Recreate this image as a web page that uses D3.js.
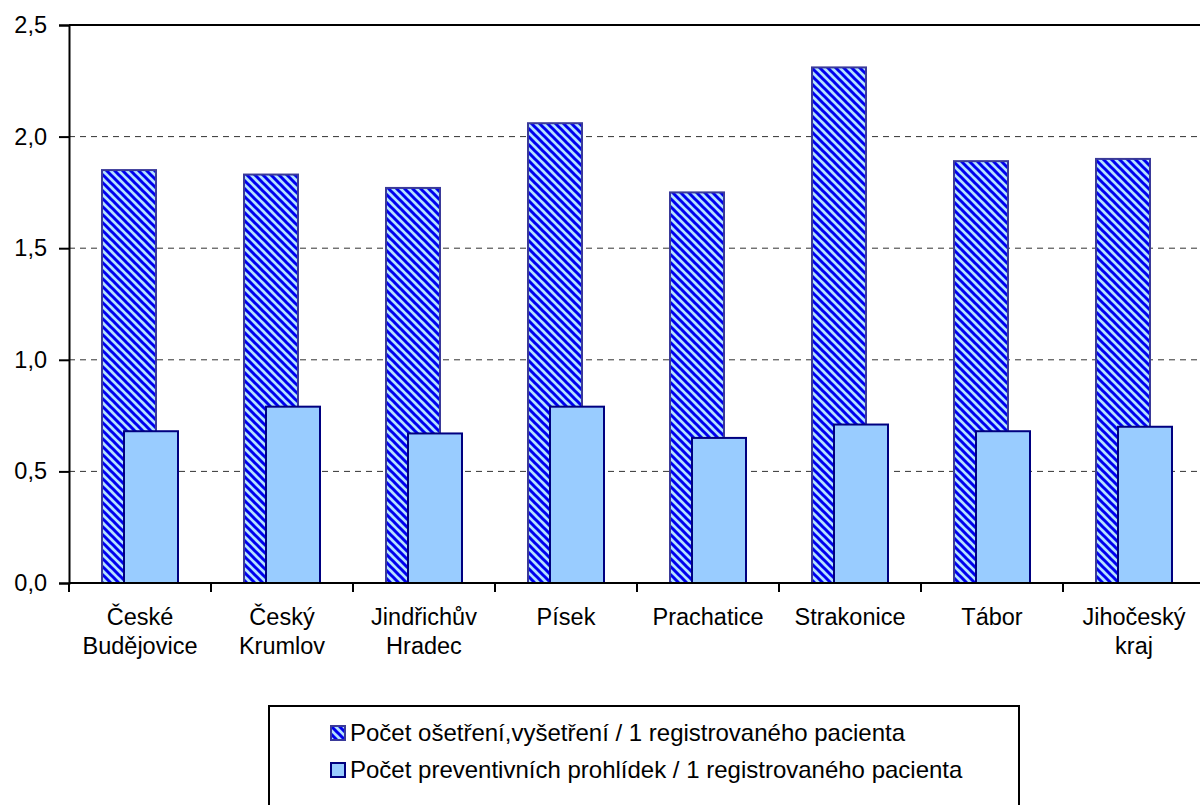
<!DOCTYPE html>
<html>
<head>
<meta charset="utf-8">
<script src="https://cdn.jsdelivr.net/npm/d3@7"></script>
<style>
  body { margin: 0; background: #fff; }
  svg { display: block; font-family: "Liberation Sans", Arial, sans-serif; }
</style>
</head>
<body>
<div id="chart"></div>
<script>
// data
let categories = ['České Budějovice', 'Český Krumlov', 'Jindřichův Hradec', 'Písek',
  'Prachatice', 'Strakonice', 'Tábor', 'Jihočeský kraj']
let labelLines = [['České', 'Budějovice'], ['Český', 'Krumlov'], ['Jindřichův', 'Hradec'], ['Písek'],
  ['Prachatice'], ['Strakonice'], ['Tábor'], ['Jihočeský', 'kraj']]
let osetreni = [1.85, 1.83, 1.77, 2.06, 1.75, 2.31, 1.89, 1.90]
let prohlidky = [0.68, 0.79, 0.67, 0.79, 0.65, 0.71, 0.68, 0.70]
let yTicks = [0, 0.5, 1.0, 1.5, 2.0, 2.5]
let seriesNames = ['Počet ošetření,vyšetření / 1 registrovaného pacienta',
  'Počet preventivních prohlídek / 1 registrovaného pacienta']

let W = 1200, H = 805
let plotLeft = 69, plotTop = 25, plotBottom = 583
let plotRight = plotLeft + 8 * 142
let fs = 23.5

let svg = d3.select('#chart').append('svg')
  .attr('width', W).attr('height', H)

// hatch pattern
let defs = svg.append('defs')
let pat = defs.append('pattern')
  .attr('id', 'hatch')
  .attr('patternUnits', 'userSpaceOnUse')
  .attr('width', 8).attr('height', 8)
pat.append('rect').attr('width', 8).attr('height', 8).attr('fill', '#b4e2ff')
pat.append('path')
  .attr('d', 'M-2,-2 L10,10 M-2,6 L2,10 M6,-2 L10,2')
  .attr('stroke', '#0000ee')
  .attr('stroke-width', 3)

let x = d3.scaleBand().domain(categories).range([plotLeft, plotRight])
let y = d3.scaleLinear().domain([0, 2.5]).range([plotBottom, plotTop])

// gridlines
svg.append('g')
  .selectAll('line')
  .data(yTicks.filter(d => d > 0 && d < 2.5))
  .enter().append('line')
  .attr('x1', plotLeft).attr('x2', plotRight)
  .attr('y1', d => y(d)).attr('y2', d => y(d))
  .attr('stroke', '#333')
  .attr('stroke-width', 1)
  .attr('stroke-dasharray', '6,5')

// top border
svg.append('line')
  .attr('x1', plotLeft).attr('x2', plotRight)
  .attr('y1', plotTop).attr('y2', plotTop)
  .attr('stroke', '#000').attr('stroke-width', 2)

let bw = 54

// hatched bars
svg.append('g')
  .selectAll('rect')
  .data(osetreni)
  .enter().append('rect')
  .attr('x', (d, i) => x(categories[i]) + x.bandwidth() / 2 - 38)
  .attr('y', d => y(d))
  .attr('width', bw)
  .attr('height', d => plotBottom - y(d))
  .attr('fill', 'url(#hatch)')
  .attr('stroke', '#3a3a9a')
  .attr('stroke-width', 2)

// light bars
svg.append('g')
  .selectAll('rect')
  .data(prohlidky)
  .enter().append('rect')
  .attr('x', (d, i) => x(categories[i]) + x.bandwidth() / 2 - 16)
  .attr('y', d => y(d))
  .attr('width', bw)
  .attr('height', d => plotBottom - y(d))
  .attr('fill', '#99ccff')
  .attr('stroke', '#000080')
  .attr('stroke-width', 2)

// y axis
let yAxis = svg.append('g')
  .attr('transform', `translate(${plotLeft},0)`)
  .call(d3.axisLeft(y).tickValues(yTicks).tickSize(10).tickPadding(12)
    .tickFormat(d => d3.format('.1f')(d).replace('.', ',')))
yAxis.attr('font-family', null).attr('font-size', null)
yAxis.select('.domain').attr('stroke', '#000').attr('stroke-width', 2)
yAxis.selectAll('.tick line').attr('stroke', '#000').attr('stroke-width', 2)
yAxis.selectAll('.tick text')
  .attr('font-size', fs).attr('fill', '#000')

// x axis
svg.append('line')
  .attr('x1', plotLeft).attr('x2', plotRight)
  .attr('y1', plotBottom).attr('y2', plotBottom)
  .attr('stroke', '#000').attr('stroke-width', 2)
svg.append('g')
  .selectAll('line')
  .data(categories)
  .enter().append('line')
  .attr('x1', d => x(d)).attr('x2', d => x(d))
  .attr('y1', plotBottom).attr('y2', plotBottom + 9)
  .attr('stroke', '#000').attr('stroke-width', 2)

let xl = svg.append('g')
  .selectAll('text')
  .data(categories)
  .enter().append('text')
  .attr('x', d => x(d) + x.bandwidth() / 2)
  .attr('y', 625)
  .attr('text-anchor', 'middle')
  .attr('font-size', fs)
xl.each(function(d, i) {
  let t = d3.select(this)
  labelLines[i].forEach((line, j) => {
    t.append('tspan')
      .attr('x', x(d) + x.bandwidth() / 2)
      .attr('dy', j === 0 ? 0 : 29)
      .text(line)
  })
})

// legend
svg.append('rect')
  .attr('x', 269).attr('y', 706)
  .attr('width', 750).attr('height', 110)
  .attr('fill', '#fff')
  .attr('stroke', '#000').attr('stroke-width', 2)

let leg = svg.append('g')
  .selectAll('g')
  .data(seriesNames)
  .enter().append('g')
  .attr('transform', (d, i) => `translate(330, ${733 + i * 37})`)
leg.append('rect')
  .attr('x', 1).attr('y', -7)
  .attr('width', 14).attr('height', 14)
  .attr('fill', (d, i) => i === 0 ? 'url(#hatch)' : '#99ccff')
  .attr('stroke', (d, i) => i === 0 ? '#3a3a9a' : '#000080')
  .attr('stroke-width', 2)
leg.append('text')
  .attr('x', 20).attr('y', 8)
  .attr('font-size', 24)
  .text(d => d)
</script>
</body>
</html>
